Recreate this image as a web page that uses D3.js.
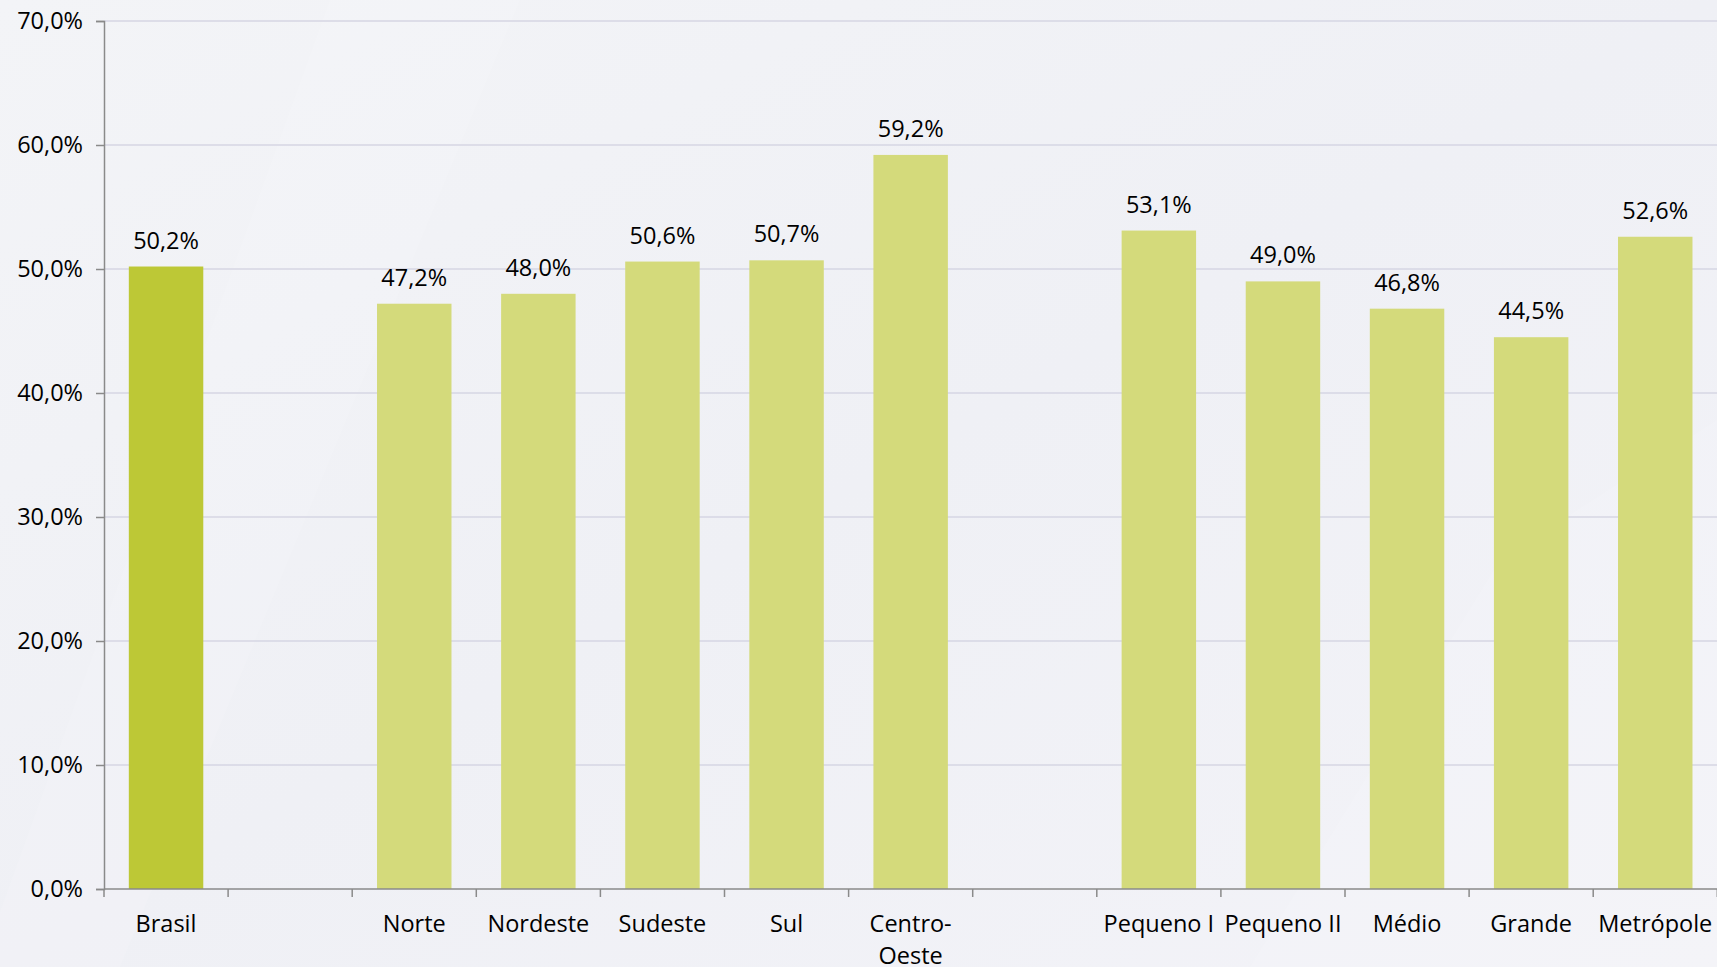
<!DOCTYPE html>
<html>
<head>
<meta charset="utf-8">
<script src="https://cdn.jsdelivr.net/npm/d3@7"></script>
<style>
  html, body { margin: 0; padding: 0; background: #f2f3f7; }
  svg { display: block; font-family: "Open Sans", sans-serif; }
</style>
</head>
<body>
<svg width="1717" height="967"></svg>
<script>
// categories (null = empty slot between groups)
var categories = ['Brasil', null, 'Norte', 'Nordeste', 'Sudeste', 'Sul', 'Centro-Oeste', null,
                  'Pequeno I', 'Pequeno II', 'Médio', 'Grande', 'Metrópole'];
var values = [50.2, null, 47.2, 48.0, 50.6, 50.7, 59.2, null, 53.1, 49.0, 46.8, 44.5, 52.6];
var yTicks = [0, 10, 20, 30, 40, 50, 60, 70];

var svg = d3.select('svg');
var W = 1717, H = 967;
var margin = {left: 104, right: 0, top: 21, bottom: 78};
var fs = 23.5;

// soft background streaks
var defs = svg.append('defs');
var grad = defs.append('linearGradient').attr('id', 'bg')
    .attr('x1', 0).attr('y1', 0).attr('x2', 1).attr('y2', 1);
grad.append('stop').attr('offset', '0%').attr('stop-color', '#f3f4f7');
grad.append('stop').attr('offset', '50%').attr('stop-color', '#eff0f5');
grad.append('stop').attr('offset', '100%').attr('stop-color', '#f3f3f8');
svg.append('rect').attr('width', W).attr('height', H).attr('fill', 'url(#bg)');
svg.append('path')
   .attr('d', 'M330,0 L520,0 L120,967 L-20,967 Z')
   .attr('fill', '#ffffff').attr('opacity', 0.12);
svg.append('path')
   .attr('d', 'M1500,560 L1717,420 L1717,967 L1250,967 Z')
   .attr('fill', '#ffffff').attr('opacity', 0.12);

var x = d3.scaleBand()
    .domain(d3.range(categories.length))
    .range([margin.left, margin.left + 124.1 * categories.length])
    .paddingInner(0).paddingOuter(0);

var y = d3.scaleLinear()
    .domain([0, 70])
    .range([H - margin.bottom, margin.top]);

var loc = d3.formatLocale({decimal: ',', thousands: '.', grouping: [3], currency: ['R$', '']});
var pct = loc.format('.1f');

// gridlines
svg.append('g').selectAll('line')
   .data(yTicks.filter(function(d) { return d > 0; }))
   .enter().append('line')
   .attr('x1', margin.left).attr('x2', W)
   .attr('y1', function(d) { return y(d); })
   .attr('y2', function(d) { return y(d); })
   .attr('stroke', '#d6d6e3').attr('stroke-width', 1.5);

// y axis
var yAxis = svg.append('g')
   .attr('transform', 'translate(' + margin.left + ',0)')
   .call(d3.axisLeft(y).tickValues(yTicks).tickSize(8).tickPadding(13)
         .tickFormat(function(d) { return pct(d) + '%'; }));
yAxis.selectAll('text').attr('font-size', fs).attr('fill', '#000')
     .attr('font-family', '"Open Sans", sans-serif');
yAxis.selectAll('line, path').attr('stroke', '#8a8a8a').attr('stroke-width', 1.5);

// bars
var idx = d3.range(categories.length).filter(function(i) { return values[i] != null; });
var bw = x.bandwidth() * 0.6;
svg.append('g').selectAll('rect')
   .data(idx).enter().append('rect')
   .attr('x', function(i) { return x(i) + (x.bandwidth() - bw) / 2; })
   .attr('width', bw)
   .attr('y', function(i) { return y(values[i]); })
   .attr('height', function(i) { return y(0) - y(values[i]); })
   .attr('fill', function(i) { return i === 0 ? '#bdc836' : '#d4da7b'; });

// value labels
svg.append('g').selectAll('text')
   .data(idx).enter().append('text')
   .attr('x', function(i) { return x(i) + x.bandwidth() / 2; })
   .attr('y', function(i) { return y(values[i]) - 18; })
   .attr('text-anchor', 'middle')
   .attr('font-size', fs).attr('fill', '#000')
   .text(function(i) { return pct(values[i]) + '%'; });

// x axis line and ticks at band boundaries
var xg = svg.append('g');
xg.append('line')
  .attr('x1', margin.left).attr('x2', W)
  .attr('y1', y(0)).attr('y2', y(0))
  .attr('stroke', '#8a8a8a').attr('stroke-width', 1.5);
xg.selectAll('line.tk')
  .data(d3.range(categories.length + 1)).enter().append('line')
  .attr('class', 'tk')
  .attr('x1', function(i) { return x.range()[0] + i * x.step(); })
  .attr('x2', function(i) { return x.range()[0] + i * x.step(); })
  .attr('y1', y(0)).attr('y2', y(0) + 8)
  .attr('stroke', '#8a8a8a').attr('stroke-width', 1.5);

// category labels (wrap after hyphen)
var lab = xg.selectAll('text.cat')
  .data(idx).enter().append('text')
  .attr('class', 'cat')
  .attr('text-anchor', 'middle')
  .attr('font-size', fs).attr('fill', '#000')
  .attr('x', function(i) { return x(i) + x.bandwidth() / 2; })
  .attr('y', y(0) + 43);
lab.each(function(i) {
  var parts = categories[i].indexOf('-') > 0
      ? [categories[i].split('-')[0] + '-', categories[i].split('-')[1]]
      : [categories[i]];
  var t = d3.select(this);
  parts.forEach(function(p, k) {
    t.append('tspan')
     .attr('x', x(i) + x.bandwidth() / 2)
     .attr('dy', k === 0 ? 0 : 32)
     .text(p);
  });
});
</script>
</body>
</html>
